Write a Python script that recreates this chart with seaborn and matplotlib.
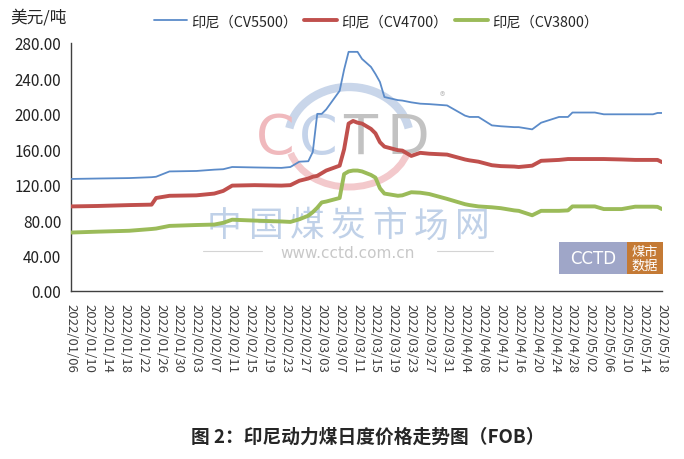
import pandas as pd
import matplotlib
matplotlib.use("Agg")
import matplotlib.pyplot as plt
import matplotlib.dates as mdates
from matplotlib.patches import Arc, Rectangle
import seaborn as sns

# data (USD/t, FOB)
dates = ["2022-01-06", "2022-01-12", "2022-01-19", "2022-01-24", "2022-01-25",
         "2022-01-28", "2022-02-03", "2022-02-07", "2022-02-09", "2022-02-11",
         "2022-02-16", "2022-02-22", "2022-02-24", "2022-02-26", "2022-02-28",
         "2022-03-01", "2022-03-02", "2022-03-03", "2022-03-04", "2022-03-07",
         "2022-03-08", "2022-03-09", "2022-03-10", "2022-03-11", "2022-03-12",
         "2022-03-14", "2022-03-15", "2022-03-16", "2022-03-17", "2022-03-20",
         "2022-03-21", "2022-03-23", "2022-03-25", "2022-03-27", "2022-03-31",
         "2022-04-04", "2022-04-05", "2022-04-07", "2022-04-10", "2022-04-12",
         "2022-04-15", "2022-04-16", "2022-04-19", "2022-04-21", "2022-04-25",
         "2022-04-27", "2022-04-28", "2022-05-03", "2022-05-05", "2022-05-09",
         "2022-05-12", "2022-05-16", "2022-05-17", "2022-05-18"]

cv5500 = [126.5, 127, 127.5, 128.5, 129,
          135, 135.5, 137, 137.5, 140,
          139.5, 139, 140, 146, 146.5,
          157, 200, 200, 205, 226,
          250, 270, 270, 270, 262,
          253, 245, 236, 219, 215.5,
          215, 213, 211.5, 211, 209.5,
          198, 196.5, 196.5, 187, 186,
          185, 185, 182.5, 190, 196.5,
          196.5, 201.5, 201.5, 199.5, 199.5,
          199.5, 199.5, 201, 201]

cv4700 = [95.5, 96, 97, 97.5, 105,
          107.5, 108, 110, 113, 119,
          119.5, 119, 119.5, 124.5, 127,
          129, 130, 133, 136, 141.5,
          160, 189, 192, 190, 189,
          183, 178, 168, 163, 159,
          158.5, 152.5, 156, 155, 154,
          148.5, 147.5, 146, 142, 141,
          140.5, 140, 141.5, 147, 148,
          149, 149, 149, 149, 148.5,
          148, 148, 148, 145.5]

cv3800 = [66, 67, 68, 70, 70.5,
          73.5, 74.5, 75, 77, 80.5,
          79.5, 78.5, 78, 81, 85,
          89, 94, 100, 101, 105,
          132, 135, 136, 136, 135,
          131, 128, 116, 110, 107.5,
          108, 111.5, 111, 109.5, 104,
          98, 97, 95.5, 94.5, 93.5,
          91, 90.5, 85.5, 90.5, 90.5,
          91, 95.5, 95.5, 92.5, 92.5,
          95.2, 95.2, 95, 92.5]

series_names = ["印尼（CV5500）", "印尼（CV4700）", "印尼（CV3800）"]
series_colors = ["#5b8bc9", "#c0504d", "#9bbb59"]
series_widths = [1.3, 2.8, 2.8]

df = pd.DataFrame({"date": pd.to_datetime(dates),
                   series_names[0]: cv5500,
                   series_names[1]: cv4700,
                   series_names[2]: cv3800})

sns.set_style("white")
plt.rcParams["font.family"] = ["Noto Sans CJK SC", "DejaVu Sans"]

W, H = 684, 460
fig = plt.figure(figsize=(W / 100, H / 100), dpi=100)
ax = fig.add_axes([71 / W, 1 - 292 / H, (662 - 71) / W, (292 - 44) / H])


def fx(x):
    return x / W


def fy(y):
    return 1 - y / H


tf = fig.transFigure

# watermark logo, drawn behind the lines
ax.add_patch(Arc((fx(349), fy(140)), 122 / W, 104 / H, theta1=15, theta2=165,
                 transform=tf, color="#c9d6ea", lw=6, zorder=0, clip_on=False))
ax.add_patch(Arc((fx(349), fy(140)), 122 / W, 96 / H, theta1=200, theta2=340,
                 transform=tf, color="#f3c9cc", lw=5, zorder=0, clip_on=False))
for ch, x, col in [("C", 275, "#f0b9bd"), ("C", 318, "#c4d3ea"),
                   ("T", 360, "#c2c2c2"), ("D", 408, "#c2c2c2")]:
    ax.text(fx(x), fy(139), ch, transform=tf, fontsize=40, color=col,
            ha="center", va="center", family="DejaVu Sans", zorder=0)
ax.text(fx(442), fy(97), "®", transform=tf, fontsize=8, color="#c2c2c2",
        ha="center", va="center", zorder=0)
for i, ch in enumerate("中国煤炭市场网"):
    ax.text(fx(224 + 41.4 * i), fy(227), ch, transform=tf, fontsize=25,
            color="#c0d1e8", ha="center", va="center", zorder=0)
ax.text(fx(348), fy(253), "www.cctd.com.cn", transform=tf, fontsize=11,
        color="#c8c8c8", ha="center", va="center", family="DejaVu Sans", zorder=0)
ax.plot([fx(203), fx(262)], [fy(252), fy(252)], transform=tf, color="#d4d4d4",
        lw=0.8, zorder=0, clip_on=False)
ax.plot([fx(437), fx(493)], [fy(252), fy(252)], transform=tf, color="#d4d4d4",
        lw=0.8, zorder=0, clip_on=False)

for name, col, lw in zip(series_names, series_colors, series_widths):
    sns.lineplot(data=df, x="date", y=name, color=col, linewidth=lw,
                 label=name, ax=ax, legend=False, zorder=3)

ax.set_xlim(pd.Timestamp("2022-01-06"), pd.Timestamp("2022-05-18"))
ax.set_ylim(0, 280)
ax.set_yticks(range(0, 281, 40))
ax.yaxis.set_major_formatter(matplotlib.ticker.FormatStrFormatter("%.2f"))
ax.set_xticks(pd.date_range("2022-01-06", "2022-05-18", freq="4D"))
ax.xaxis.set_major_formatter(mdates.DateFormatter("%Y/%m/%d"))
ax.tick_params(axis="x", direction="in", length=4, labelrotation=270,
               labelsize=9.5, labelcolor="#404040", color="#404040", pad=9)
ax.tick_params(axis="y", direction="in", length=4, labelsize=11,
               labelcolor="#222222", color="#404040", pad=7)
for lab in ax.get_xticklabels():
    lab.set_verticalalignment("top")
ax.set_xlabel("")
ax.set_ylabel("")
sns.despine(ax=ax)
for s in ["left", "bottom"]:
    ax.spines[s].set_color("#404040")
    ax.spines[s].set_linewidth(1.0)

fig.text(fx(10), fy(18), "美元/吨", fontsize=12, va="center", ha="left")

handles, labels = ax.get_legend_handles_labels()
fig.legend(handles, labels, loc="center", bbox_to_anchor=(fx(376), fy(22)),
           ncol=3, frameon=False, fontsize=10.3, handlelength=2.3,
           columnspacing=0.5, handletextpad=0.3)

# bottom-right logo box
fig.add_artist(Rectangle((fx(559), fy(275)), 68 / W, 32 / H, transform=tf,
                         fc="#9fa6c8", ec="none"))
fig.add_artist(Rectangle((fx(627), fy(275)), 36 / W, 32 / H, transform=tf,
                         fc="#c47a35", ec="none"))
fig.text(fx(593), fy(259), "CCTD", fontsize=12, color="white", ha="center",
         va="center", family="DejaVu Sans")
fig.text(fx(645), fy(259), "煤市\n数据", fontsize=9.5, color="white",
         ha="center", va="center", linespacing=1.05)

fig.text(fx(368), fy(437), "图 2：印尼动力煤日度价格走势图（FOB）",
         fontsize=13.5, fontweight="bold", ha="center", va="center")

fig.savefig("out.png", dpi=100)
